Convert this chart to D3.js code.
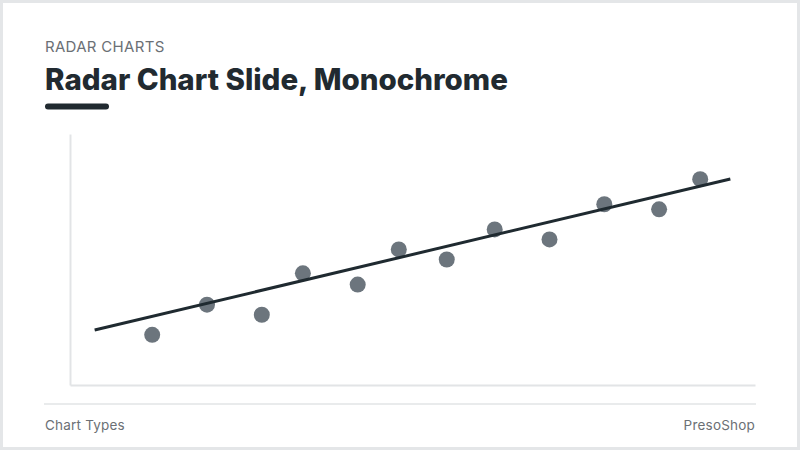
<!DOCTYPE html>
<html lang="en">
<head>
    <meta charset="UTF-8">
    <title>Radar Chart Slide, Monochrome</title>
    <script src="https://d3js.org/d3.v7.min.js"></script>
</head>
<body>
    <div id="container"></div>
</body>

<style>
body {
    margin: 0;
    background: #ffffff;
}
svg text {
    font-family: "Inter", "Lato", sans-serif;
    user-select: none;
}
</style>

<script>
    // scatter points
    const pointX = [12, 20, 28, 34, 42, 48, 55, 62, 70, 78, 86, 92]
    const pointY = [20, 32, 28, 44.5, 40, 54, 50, 62, 58, 72, 70, 82]

    // trend line end points
    const trendX = [3.6, 96.4]
    const trendY = [21.9, 82.1]

    const kicker = "RADAR CHARTS"
    const title = "Radar Chart Slide, Monochrome"
    const footLeft = "Chart Types"
    const footRight = "PresoShop"

    const width = 800
    const height = 450

    const svg = d3.select('#container')
        .append('svg')
        .attr('width', width)
        .attr('height', height)

    // slide frame
    svg.append('rect')
        .attr('x', 1.5)
        .attr('y', 1.5)
        .attr('width', width - 3)
        .attr('height', height - 3)
        .attr('fill', '#ffffff')
        .attr('stroke', '#e4e6e8')
        .attr('stroke-width', 3)

    // header
    svg.append('text')
        .attr('x', 45)
        .attr('y', 52)
        .attr('font-size', 15)
        .attr('letter-spacing', 0.3)
        .attr('fill', '#6b7075')
        .text(kicker)

    const titleText = svg.append('text')
        .attr('x', 45)
        .attr('y', 90)
        .attr('font-size', 28)
        .attr('font-weight', 800)
        .attr('fill', '#212a30')
        .text(title)

    // squeeze the title to the reference width
    const tw = titleText.node().getComputedTextLength()
    titleText.attr('font-size', 28 * 463 / tw)

    svg.append('line')
        .attr('x1', 48).attr('x2', 106)
        .attr('y1', 106.5).attr('y2', 106.5)
        .attr('stroke', '#212a30')
        .attr('stroke-width', 6)
        .attr('stroke-linecap', 'round')

    // chart area
    const x = d3.scaleLinear().domain([0, 100]).range([70, 755])
    const y = d3.scaleLinear().domain([0, 100]).range([385, 134])

    const g = svg.append('g')

    // axes without ticks
    g.append('g')
        .attr('transform', 'translate(0,' + y(0) + ')')
        .call(d3.axisBottom(x).ticks(0).tickSize(0).tickFormat(''))
        .call(a => a.select('.domain').attr('stroke', '#e2e4e6').attr('stroke-width', 2))

    g.append('g')
        .attr('transform', 'translate(' + x(0) + ',0)')
        .call(d3.axisLeft(y).ticks(0).tickSize(0).tickFormat(''))
        .call(a => a.select('.domain').attr('stroke', '#e2e4e6').attr('stroke-width', 2))

    const points = pointX.map((v, i) => ({x: v, y: pointY[i]}))

    g.append('g')
        .selectAll('circle')
        .data(points)
        .enter()
        .append('circle')
        .attr('cx', d => x(d.x))
        .attr('cy', d => y(d.y))
        .attr('r', 8)
        .attr('fill', '#6c757d')

    const trend = trendX.map((v, i) => [v, trendY[i]])
    g.append('path')
        .datum(trend)
        .attr('d', d3.line().x(d => x(d[0])).y(d => y(d[1])))
        .attr('fill', 'none')
        .attr('stroke', '#1f2a30')
        .attr('stroke-width', 3)

    // footer
    svg.append('line')
        .attr('x1', 44).attr('x2', 756)
        .attr('y1', 404).attr('y2', 404)
        .attr('stroke', '#e2e4e6')
        .attr('stroke-width', 1.5)

    svg.append('text')
        .attr('x', 45)
        .attr('y', 430)
        .attr('font-size', 13.5)
        .attr('letter-spacing', 0.2)
        .attr('fill', '#6b7075')
        .text(footLeft)

    svg.append('text')
        .attr('x', 755)
        .attr('y', 430)
        .attr('font-size', 13.5)
        .attr('letter-spacing', 0.2)
        .attr('text-anchor', 'end')
        .attr('fill', '#6b7075')
        .text(footRight)
</script>
</html>
